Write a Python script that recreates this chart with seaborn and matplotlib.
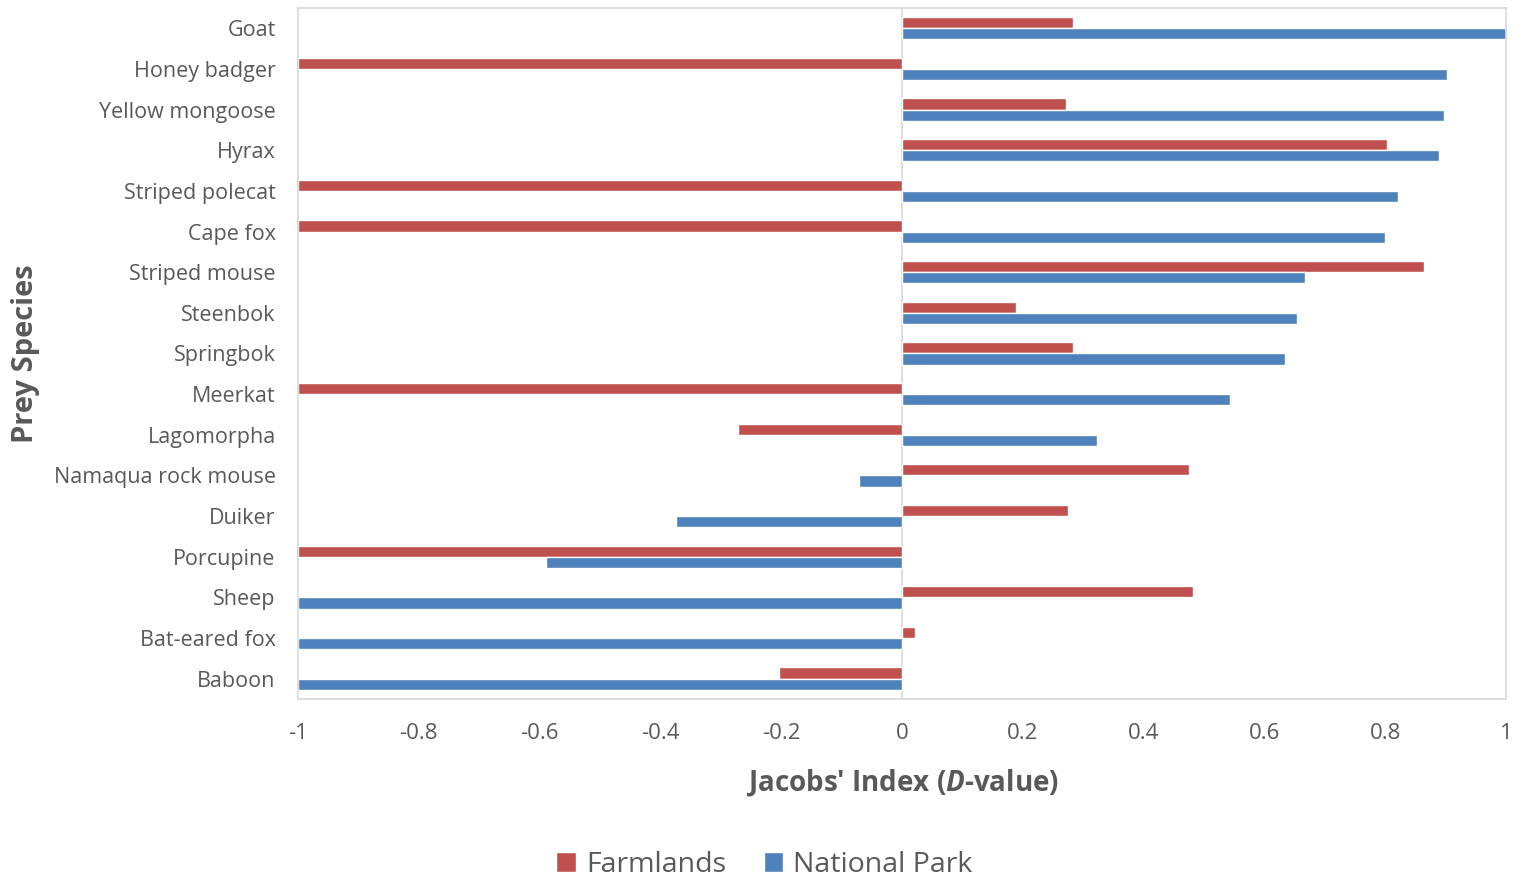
import matplotlib

matplotlib.use("Agg")
import matplotlib.pyplot as plt
import pandas as pd
import seaborn as sns

# Jacobs' index per prey species (top to bottom as shown)
species = [
    "Goat", "Honey badger", "Yellow mongoose", "Hyrax", "Striped polecat",
    "Cape fox", "Striped mouse", "Steenbok", "Springbok", "Meerkat",
    "Lagomorpha", "Namaqua rock mouse", "Duiker", "Porcupine", "Sheep",
    "Bat-eared fox", "Baboon",
]
farmlands = [0.282, -1.0, 0.272, 0.803, -1.0, -1.0, 0.863, 0.189, 0.282, -1.0,
             -0.272, 0.474, 0.275, -1.0, 0.482, 0.022, -0.204]
national_park = [1.0, 0.902, 0.897, 0.889, 0.821, 0.800, 0.667, 0.653, 0.634, 0.542,
                 0.322, -0.072, -0.375, -0.590, -1.0, -1.0, -1.0]
groups = ["Farmlands", "National Park"]
colors = ["#C0504D", "#4F81BD"]

df = pd.DataFrame({
    "species": species * 2,
    "D": farmlands + national_park,
    "site": [groups[0]] * len(species) + [groups[1]] * len(species),
})

sns.set_theme(style="white")
plt.rcParams["font.family"] = ["Open Sans", "DejaVu Sans"]
plt.rcParams["mathtext.fontset"] = "custom"
plt.rcParams["mathtext.bfit"] = "Open Sans:italic:bold"
plt.rcParams["mathtext.it"] = "Open Sans:italic"

text_col = "#595959"
grid_col = "#D9D9D9"

fig = plt.figure(figsize=(15.2, 8.81), dpi=100)
ax = fig.add_axes([0.196, 0.2066, 0.795, 0.7844])

sns.barplot(
    data=df, y="species", x="D", hue="site", order=species,
    hue_order=groups, palette=colors, orient="h", width=0.55,
    saturation=1, ax=ax, legend=True,
)

ax.axvline(0, color=grid_col, lw=1.2, zorder=0)
ax.set_xlim(-1, 1)
ax.set_ylim(len(species) - 0.5, -0.5)

ticks = [round(-1 + 0.2 * i, 1) for i in range(11)]
ax.set_xticks(ticks)
ax.set_xticklabels([f"{t:g}" if t != 0 else "0" for t in ticks])
ax.tick_params(axis="x", length=0, pad=17, labelsize=16, labelcolor=text_col)
ax.tick_params(axis="y", length=0, pad=16, labelsize=15.5, labelcolor=text_col)

for s in ax.spines.values():
    s.set_color(grid_col)
    s.set_linewidth(1.2)

ax.set_xlabel(r"Jacobs' Index ($\mathbfit{D}$-value)", fontsize=20,
              fontweight="bold", color=text_col, labelpad=17)
ax.set_ylabel("Prey Species", fontsize=21, fontweight="bold",
              color=text_col, labelpad=10)

handles, labels = ax.get_legend_handles_labels()
ax.get_legend().remove()
fig.legend(handles, labels, loc="center", bbox_to_anchor=(0.503, 0.018),
           ncol=2, frameon=False, fontsize=20.5, handlelength=0.7,
           handleheight=0.7, handletextpad=0.35, columnspacing=1.3,
           labelcolor=text_col)

fig.savefig("out.png", dpi=100)
